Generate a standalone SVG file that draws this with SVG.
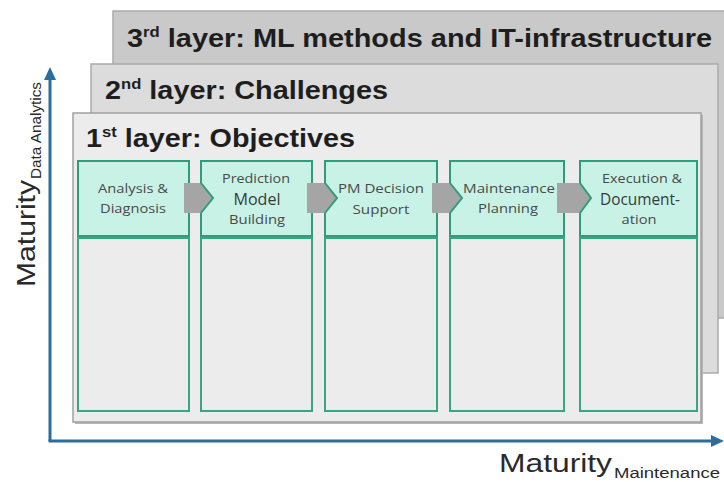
<svg xmlns="http://www.w3.org/2000/svg" width="724" height="482" viewBox="0 0 724 482">
  <style>
    .title { font-family: "Liberation Sans", Arial, sans-serif; font-weight: bold; font-size: 26px; fill: #1e1e1e; }
    .sup { font-size: 15px; }
    .step { fill: #c8f2e6; stroke: #2f9c7a; stroke-width: 2; }
    .detail { fill: #ececec; stroke: #3aa585; stroke-width: 2; }
    .lbl { font-family: "Open Sans", "Liberation Sans", sans-serif; font-size: 13px; fill: #4a4a4a; text-anchor: middle; }
    .big { font-size: 16px; fill: #3a3a3a; }
    .arrow { fill: #a5a5a5; }
    .head { fill: none; stroke: #2f9c7a; stroke-width: 2; stroke-linejoin: miter; }
    .axis { stroke: #2c6d9b; stroke-width: 3; fill: none; }
    .axhead { fill: #2c6d9b; }
    .axlbl { font-family: "Liberation Sans", Arial, sans-serif; fill: #2a2a2a; }
  </style>
  <rect width="724" height="482" fill="#ffffff"/>

  <g id="layer3">
    <rect x="113" y="11" width="620" height="307" fill="#c9c9c9" stroke="#ababab" stroke-width="1.5"/>
    <text class="title" x="127" y="47" textLength="585" lengthAdjust="spacingAndGlyphs">3<tspan class="sup" dy="-10">rd</tspan><tspan dy="10"> layer: ML methods and IT-infrastructure</tspan></text>
  </g>

  <g id="layer2">
    <rect x="91" y="64" width="627" height="309" fill="#dcdcdc" stroke="#ababab" stroke-width="1.5"/>
    <text class="title" x="105" y="99" textLength="283" lengthAdjust="spacingAndGlyphs">2<tspan class="sup" dy="-10">nd</tspan><tspan dy="10"> layer: Challenges</tspan></text>
  </g>

  <g id="layer1">
    <rect x="75" y="115" width="628" height="309" fill="#b5b5b5"/>
    <rect x="73" y="113" width="628" height="309" fill="#ececec" stroke="#a0a0a0" stroke-width="1.5"/>
    <text class="title" x="86" y="147" textLength="269" lengthAdjust="spacingAndGlyphs">1<tspan class="sup" dy="-10">st</tspan><tspan dy="10"> layer: Objectives</tspan></text>
  </g>

  <g id="detail1"><rect class="detail" x="78" y="238" width="111" height="173"/></g>
  <g id="detail2"><rect class="detail" x="201" y="238" width="111" height="173"/></g>
  <g id="detail3"><rect class="detail" x="325" y="238" width="112" height="173"/></g>
  <g id="detail4"><rect class="detail" x="450" y="238" width="114" height="173"/></g>
  <g id="detail5"><rect class="detail" x="580" y="238" width="117" height="173"/></g>

  <g id="step1"><rect class="step" x="78" y="161" width="111" height="75"/></g>
  <g id="step2"><rect class="step" x="201" y="161" width="111" height="75"/></g>
  <g id="step3"><rect class="step" x="325" y="161" width="112" height="75"/></g>
  <g id="step4"><rect class="step" x="450" y="161" width="114" height="75"/></g>
  <g id="step5"><rect class="step" x="580" y="161" width="117" height="75"/></g>

  <g id="connectors">
    <polygon class="arrow" points="184,183 201,183 213,198 201,213 184,213"/>
    <polyline class="head" points="201,183 213,198 201,213"/>
    <polygon class="arrow" points="307,183 325,183 337,198 325,213 307,213"/>
    <polyline class="head" points="325,183 337,198 325,213"/>
    <polygon class="arrow" points="432,183 450,183 462,198 450,213 432,213"/>
    <polyline class="head" points="450,183 462,198 450,213"/>
    <polygon class="arrow" points="557,183 580,183 591,198 580,213 557,213"/>
    <polyline class="head" points="580,183 591,198 580,213"/>

    <line class="axis" x1="50" y1="441" x2="50" y2="78"/>
    <polygon class="axhead" points="50,67 44,80 56,80"/>
    <line class="axis" x1="48.5" y1="441" x2="712" y2="441"/>
    <polygon class="axhead" points="724,441 711,435 711,447"/>
  </g>

  <g id="step-labels">
    <text class="lbl" x="133" y="193" textLength="70" lengthAdjust="spacingAndGlyphs">Analysis &amp;</text>
    <text class="lbl" x="133" y="213" textLength="66" lengthAdjust="spacingAndGlyphs">Diagnosis</text>
    <text class="lbl" x="256" y="183" textLength="68" lengthAdjust="spacingAndGlyphs">Prediction</text>
    <text class="lbl big" x="257" y="205" textLength="47" lengthAdjust="spacingAndGlyphs">Model</text>
    <text class="lbl" x="257" y="224" textLength="56" lengthAdjust="spacingAndGlyphs">Building</text>
    <text class="lbl" x="381" y="193" textLength="86" lengthAdjust="spacingAndGlyphs">PM Decision</text>
    <text class="lbl" x="381" y="214" textLength="57" lengthAdjust="spacingAndGlyphs">Support</text>
    <text class="lbl" x="509" y="193" textLength="92" lengthAdjust="spacingAndGlyphs">Maintenance</text>
    <text class="lbl" x="508" y="213" textLength="60" lengthAdjust="spacingAndGlyphs">Planning</text>
    <text class="lbl" x="642" y="183" textLength="80" lengthAdjust="spacingAndGlyphs">Execution &amp;</text>
    <text class="lbl big" x="640" y="205" textLength="80" lengthAdjust="spacingAndGlyphs">Document-</text>
    <text class="lbl" x="639" y="224" textLength="35" lengthAdjust="spacingAndGlyphs">ation</text>
  </g>

  <g id="axis-labels">
    <text class="axlbl" x="499" y="472" font-size="25" textLength="113" lengthAdjust="spacingAndGlyphs">Maturity</text>
    <text class="axlbl" x="614" y="478" font-size="14" textLength="106" lengthAdjust="spacingAndGlyphs">Maintenance</text>
    <text class="axlbl" transform="translate(35,287) rotate(-90)" x="0" y="0" font-size="25" textLength="107" lengthAdjust="spacingAndGlyphs">Maturity</text>
    <text class="axlbl" transform="translate(41,179) rotate(-90)" x="0" y="0" font-size="14" textLength="97" lengthAdjust="spacingAndGlyphs">Data Analytics</text>
  </g>
</svg>
